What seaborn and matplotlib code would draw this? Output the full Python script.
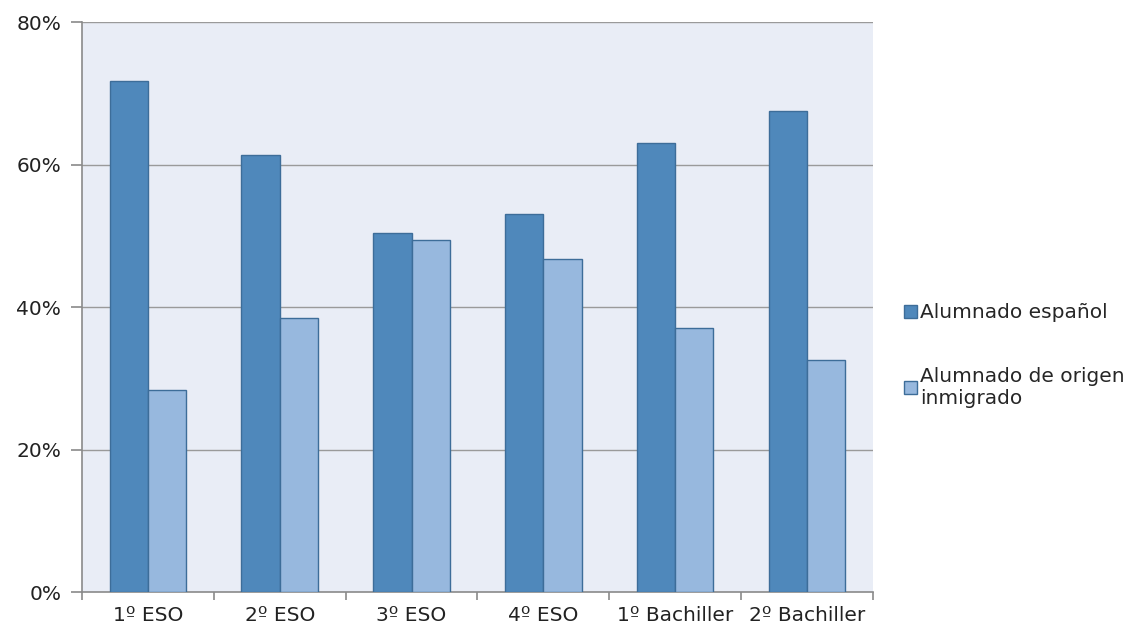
import matplotlib
matplotlib.use("Agg")
import matplotlib.pyplot as plt
import seaborn as sns
import pandas as pd
import numpy as np
from matplotlib.patches import Patch

categories = ["1º ESO", "2º ESO", "3º ESO", "4º ESO", "1º Bachiller", "2º Bachiller"]
series_names = ["Alumnado español", "Alumnado de origen\ninmigrado"]
espanol = [71.7, 61.3, 50.4, 53.1, 63.0, 67.5]
inmigrado = [28.4, 38.5, 49.4, 46.8, 37.0, 32.5]
y_ticks = [0, 20, 40, 60, 80]
y_labels = ["0%", "20%", "40%", "60%", "80%"]

colors = ["#4F88BB", "#97B8DE"]
edge = "#3D6D99"

df = pd.DataFrame({
    "curso": categories * 2,
    "serie": [series_names[0]] * len(categories) + [series_names[1]] * len(categories),
    "valor": espanol + inmigrado,
})

sns.set_style("white")
plt.rcParams["font.family"] = ["DejaVu Sans"]

fig = plt.figure(figsize=(11.37, 6.31), dpi=100)
ax = fig.add_axes([0.0721, 0.0618, 0.6957, 0.9032])
ax.set_facecolor("#E9EDF6")

sns.barplot(data=df, x="curso", y="valor", hue="serie", palette=colors, saturation=1,
            width=0.58, edgecolor=edge, linewidth=1.0, ax=ax, legend=False, zorder=3)

ax.set_ylim(0, 80)
ax.set_xlim(-0.5, len(categories) - 0.5)
ax.set_yticks(y_ticks)
ax.set_yticklabels(y_labels, fontsize=14.5, color="#222222")
for y in y_ticks[1:]:
    ax.axhline(y, color="#9A9A9A", linewidth=1.0, zorder=1)

ax.set_xticks(range(len(categories)))
ax.set_xticklabels(categories, fontsize=14.5, color="#222222")
ax.tick_params(axis="x", which="major", bottom=False, length=0, pad=10)
ax.set_xticks(np.arange(-0.5, len(categories), 1.0), minor=True)
ax.tick_params(axis="x", which="minor", bottom=True, length=6, width=1.2, color="#8A8A8A", direction="out")
ax.tick_params(axis="y", which="major", left=True, length=8, width=1.2, color="#8A8A8A", direction="out", pad=7)

ax.set_xlabel("")
ax.set_ylabel("")
for s in ["top", "right"]:
    ax.spines[s].set_visible(False)
for s in ["left", "bottom"]:
    ax.spines[s].set_color("#8A8A8A")
    ax.spines[s].set_linewidth(1.2)

handles = [Patch(facecolor=colors[i], edgecolor=edge, label=series_names[i]) for i in range(2)]
fig.legend(handles=handles, loc="upper left", bbox_to_anchor=(0.788, 0.532),
           frameon=False, fontsize=14.5, handlelength=0.65, handleheight=0.65,
           handletextpad=0.15, labelspacing=2.2, borderaxespad=0)

fig.savefig("out.png", dpi=100, facecolor="white")
